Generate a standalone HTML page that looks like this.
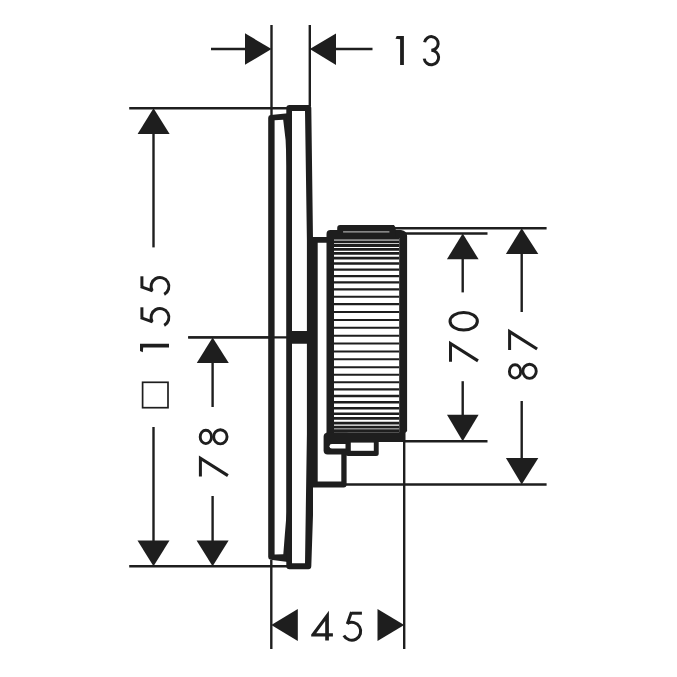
<!DOCTYPE html>
<html><head><meta charset="utf-8"><style>
html,body{margin:0;padding:0;background:#fff;}
body{width:677px;height:677px;overflow:hidden;}
svg{display:block;}
line{stroke:#1e1e1e;}
.f{fill:#1e1e1e;stroke:none;}
.w{fill:#fff;stroke:none;}
.s{fill:none;stroke:#1e1e1e;stroke-width:3;}
</style></head><body>
<svg width="677" height="677" viewBox="0 0 677 677">
<rect x="0" y="0" width="677" height="677" fill="#fff"/>
<line x1="271.5" y1="25" x2="271.5" y2="116" stroke-width="2.4"/>
<line x1="309.8" y1="25" x2="309.8" y2="106" stroke-width="2.4"/>
<line x1="211" y1="49" x2="246" y2="49" stroke-width="2.4"/>
<line x1="335" y1="49" x2="372.5" y2="49" stroke-width="2.4"/>
<polygon class="f" points="245,33.3 245,64.8 271.5,49"/>
<polygon class="f" points="336,33.4 336,64.9 309.8,49"/>
<line x1="129.2" y1="108.2" x2="288" y2="108.2" stroke-width="2.4"/>
<line x1="129.2" y1="566.3" x2="288" y2="566.3" stroke-width="2.4"/>
<line x1="188.2" y1="337.4" x2="288" y2="337.4" stroke-width="2.4"/>
<line x1="153.5" y1="133" x2="153.5" y2="247.4" stroke-width="2.4"/>
<line x1="153.5" y1="427" x2="153.5" y2="541" stroke-width="2.4"/>
<polygon class="f" points="137.6,134 169.6,134 153.5,108.2"/>
<polygon class="f" points="137.5,540.4 169.5,540.4 153.5,566.3"/>
<line x1="212.6" y1="362" x2="212.6" y2="407" stroke-width="2.4"/>
<line x1="212.6" y1="496" x2="212.6" y2="541" stroke-width="2.4"/>
<polygon class="f" points="196.8,363 228.8,363 212.6,337.4"/>
<polygon class="f" points="196.6,540.4 228.6,540.4 212.6,566.3"/>
<line x1="395" y1="228.3" x2="546.6" y2="228.3" stroke-width="2.4"/>
<line x1="404.8" y1="233.5" x2="487.5" y2="233.5" stroke-width="2.4"/>
<line x1="404" y1="441.3" x2="487.5" y2="441.3" stroke-width="2.4"/>
<line x1="346" y1="484.5" x2="546.6" y2="484.5" stroke-width="2.4"/>
<line x1="462.7" y1="258" x2="462.7" y2="292.4" stroke-width="2.4"/>
<line x1="462.7" y1="381.2" x2="462.7" y2="416" stroke-width="2.4"/>
<polygon class="f" points="446.9,259.3 478.6,259.3 462.7,233.5"/>
<polygon class="f" points="447.0,414.7 478.6,414.7 462.7,441.3"/>
<line x1="521.7" y1="253" x2="521.7" y2="312" stroke-width="2.4"/>
<line x1="521.7" y1="401" x2="521.7" y2="459" stroke-width="2.4"/>
<polygon class="f" points="505.9,254 538.3,254 521.7,228.3"/>
<polygon class="f" points="505.9,457.9 538.3,457.9 521.7,484.5"/>
<line x1="271.3" y1="560" x2="271.3" y2="649" stroke-width="2.4"/>
<line x1="404.2" y1="441" x2="404.2" y2="649" stroke-width="2.4"/>
<polygon class="f" points="297.8,609 297.8,640.9 271.3,625"/>
<polygon class="f" points="377.5,609 377.5,640.9 404.2,625"/>
<g transform="translate(395.4,36.0)"><polygon class="f" points="1.3,0 8.5,0 8.5,29 4.7,29 4.7,3.2 0.1,2.8"/></g>
<path class="s" d="M424.6,42.2 A6.85,6.85 0 1 1 431.3,50.3 A7.25,7.25 0 1 1 424.2,58.6"/>
<g transform="translate(311.2,610.8)"><path class="f" fill-rule="evenodd" d="M17.7,0 V22.4 H21.7 V25.6 H17.7 V29.8 H14 V25.6 H0 V23.8 Z M14,10.3 V22.4 H5 Z"/></g>
<g transform="translate(342.7,611.3)"><path class="s" d="M8.9,1.9 H19.2"/><path class="s" d="M8.8,0.7 L4.6,12.6"/><path class="s" d="M4.6,12.2 A8.95,8.95 0 1 1 1.17,24.2"/></g>
<rect class="s" x="142.6" y="382.3" width="25.4" height="25.4" style="stroke-width:1.7"/>
<g transform="translate(140,352.3) rotate(-90)"><polygon class="f" points="1.3,0 8.5,0 8.5,29 4.7,29 4.7,3.2 0.1,2.8"/></g>
<g transform="translate(140,326.5) rotate(-90)"><path class="s" d="M8.9,1.9 H19.2"/><path class="s" d="M8.8,0.7 L4.6,12.6"/><path class="s" d="M4.6,12.2 A8.95,8.95 0 1 1 1.17,24.2"/></g>
<g transform="translate(140,295.5) rotate(-90)"><path class="s" d="M8.9,1.9 H19.2"/><path class="s" d="M8.8,0.7 L4.6,12.6"/><path class="s" d="M4.6,12.2 A8.95,8.95 0 1 1 1.17,24.2"/></g>
<g transform="translate(198.9,476.5) rotate(-90)"><polygon class="f" points="0,0 21.1,0 2.21,29.83 -0.41,28.17 15.5,3 0,3"/></g>
<g transform="translate(198.9,445.2) rotate(-90)"><ellipse cx="8.3" cy="6.95" rx="6.7" ry="5.65" class="s" style="stroke-width:2.9"/><ellipse cx="8.35" cy="21.45" rx="7.05" ry="6.7" class="s" style="stroke-width:2.9"/></g>
<g transform="translate(449,361.8) rotate(-90)"><polygon class="f" points="0,0 21.1,0 2.21,29.83 -0.41,28.17 15.5,3 0,3"/></g>
<ellipse class="s" cx="463.7" cy="321.25" rx="13.65" ry="8.8" style="stroke-width:3.1"/>
<g transform="translate(508.1,349.9) rotate(-90)"><polygon class="f" points="0,0 21.1,0 2.21,29.83 -0.41,28.17 15.5,3 0,3"/></g>
<g transform="translate(508.1,379.7) rotate(-90)"><ellipse cx="8.3" cy="6.95" rx="6.7" ry="5.65" class="s" style="stroke-width:2.9"/><ellipse cx="8.35" cy="21.45" rx="7.05" ry="6.7" class="s" style="stroke-width:2.9"/></g>
<path class="f" d="M268.2,117.8 Q268.2,115.3 270.7,115.1 L288,113.2 L288,562 L270.7,559.7 Q268.2,559.5 268.2,557 Z"/>
<path class="w" d="M274.6,120.2 L283.2,119.8 L285.6,140 L286.7,166 L286.7,512 L284.8,535 L283.3,554.3 L274.6,554.5 Z"/>
<line x1="188.2" y1="337.4" x2="288" y2="337.4" stroke-width="2.4"/>
<path class="f" fill-rule="evenodd" d="M289.6,105.1 H308.4 Q311.2,105.1 311.3,108.1 L313,240 L313,515 L311.3,566.3 Q311.2,569.3 308.4,569.3 H289.6 Q286.3,569.3 286.3,566.3 V108.1 Q286.3,105.1 289.6,105.1 Z M292,111.0 V331 H306.9 V240 L305.0,111.0 Z M292,343.7 V563.3 H305.0 L306.9,434 V343.7 Z"/>
<path class="f" fill-rule="evenodd" d="M312,236.9 H346.6 V484.6 Q346.6,487.6 343.6,487.6 H312 Z M317.7,242.7 V481.4 H341.3 V242.7 Z"/>
<path class="f" d="M330.5,230 H401 Q407.1,231 407.1,236 V431 L405.3,433 V441.9 H326.5 V234 Q326.5,230 330.5,230 Z"/>
<path class="f" d="M340.2,225.1 H393.9 L395.7,227.4 V236 H337.2 V228.1 Q337.2,225.1 340.2,225.1 Z"/>
<rect class="w" x="334" y="238" width="65.2" height="194.5"/>
<line x1="343.1" y1="231.9" x2="389.4" y2="231.9" style="stroke:#a8a8a8;stroke-width:1.4"/>
<line x1="334" y1="241.9" x2="399.2" y2="241.9" stroke-width="2.88"/>
<line x1="334" y1="245.5" x2="399.2" y2="245.5" stroke-width="2.86"/>
<line x1="334" y1="249.3" x2="399.2" y2="249.3" stroke-width="2.81"/>
<line x1="334" y1="253.4" x2="399.2" y2="253.4" stroke-width="2.72"/>
<line x1="334" y1="258.1" x2="399.2" y2="258.1" stroke-width="2.59"/>
<line x1="334" y1="263.5" x2="399.2" y2="263.5" stroke-width="2.44"/>
<line x1="334" y1="269.7" x2="399.2" y2="269.7" stroke-width="2.34"/>
<line x1="334" y1="276.1" x2="399.2" y2="276.1" stroke-width="2.34"/>
<line x1="334" y1="282.3" x2="399.2" y2="282.3" stroke-width="2.27"/>
<line x1="334" y1="289.4" x2="399.2" y2="289.4" stroke-width="2.15"/>
<line x1="334" y1="296.8" x2="399.2" y2="296.8" stroke-width="2.13"/>
<line x1="334" y1="304.1" x2="399.2" y2="304.1" stroke-width="2.09"/>
<line x1="334" y1="311.9" x2="399.2" y2="311.9" stroke-width="2.02"/>
<line x1="334" y1="319.9" x2="399.2" y2="319.9" stroke-width="2.02"/>
<line x1="334" y1="327.7" x2="399.2" y2="327.7" stroke-width="2.02"/>
<line x1="334" y1="335.7" x2="399.2" y2="335.7" stroke-width="2.01"/>
<line x1="334" y1="343.6" x2="399.2" y2="343.6" stroke-width="2.01"/>
<line x1="334" y1="351.6" x2="399.2" y2="351.6" stroke-width="2.03"/>
<line x1="334" y1="359.3" x2="399.2" y2="359.3" stroke-width="2.04"/>
<line x1="334" y1="367.2" x2="399.2" y2="367.2" stroke-width="2.05"/>
<line x1="334" y1="374.8" x2="399.2" y2="374.8" stroke-width="2.09"/>
<line x1="334" y1="382.3" x2="399.2" y2="382.3" stroke-width="2.14"/>
<line x1="334" y1="389.4" x2="399.2" y2="389.4" stroke-width="2.23"/>
<line x1="334" y1="396.0" x2="399.2" y2="396.0" stroke-width="2.32"/>
<line x1="334" y1="402.2" x2="399.2" y2="402.2" stroke-width="2.37"/>
<line x1="334" y1="408.3" x2="399.2" y2="408.3" stroke-width="2.45"/>
<line x1="334" y1="413.7" x2="399.2" y2="413.7" stroke-width="2.59"/>
<line x1="334" y1="418.4" x2="399.2" y2="418.4" stroke-width="2.66"/>
<line x1="334" y1="423.1" x2="399.2" y2="423.1" stroke-width="2.72"/>
<line x1="334" y1="427.2" x2="399.2" y2="427.2" stroke-width="2.83"/>
<line x1="334" y1="430.8" x2="399.2" y2="430.8" stroke-width="2.88"/>
<rect class="f" x="334" y="236" width="65.2" height="3.6"/>
<rect class="f" x="323.6" y="432.7" width="27.2" height="21.8" rx="4"/>
<rect class="f" x="345.5" y="438" width="33.2" height="18.1" rx="2.5"/>
<path class="w" d="M331.8,443.9 H345.5 V448.6 H331.8 Q329.5,448.6 329.5,446.25 Q329.5,443.9 331.8,443.9 Z"/>
<rect class="w" x="350.8" y="442.6" width="23" height="8.2"/>
<rect class="f" x="326.5" y="432.6" width="78.8" height="9.3"/>
</svg>
</body></html>
